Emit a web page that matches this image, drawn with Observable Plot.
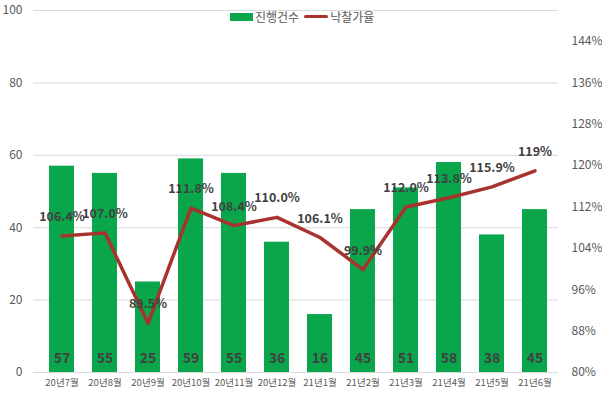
<!DOCTYPE html>
<html><head><meta charset="utf-8">
<script src="https://cdn.jsdelivr.net/npm/d3@7"></script>
<script src="https://cdn.jsdelivr.net/npm/@observablehq/plot@0.6"></script>
<style>
body{margin:0;background:#fff;font-family:"Noto Sans CJK KR","Noto Sans",sans-serif;}
#wrap{position:relative;width:602px;height:397px;}
#legend{position:absolute;left:230px;top:8px;display:flex;align-items:center;font-size:12px;color:#595959;white-space:nowrap;z-index:2;}
.sw{display:inline-block;width:23px;height:8px;background:#0aa64b;margin-right:2px;}
.ln{display:inline-block;width:24px;height:3px;background:#a8332c;margin:0 2px 0 5px;border-radius:2px;}
</style></head>
<body><div id="wrap"><div id="legend"><span class="sw"></span>진행건수<span class="ln"></span>낙찰가율</div></div>
<script>
const months = ["20년7월","20년8월","20년9월","20년10월","20년11월","20년12월","21년1월","21년2월","21년3월","21년4월","21년5월","21년6월"];
const counts = [57,55,25,59,55,36,16,45,51,58,38,45];
const rates = [106.4,107.0,89.5,111.8,108.4,110.0,106.1,99.9,112.0,113.8,115.9,119];
const rateLabels = ["106.4%","107.0%","89.5%","111.8%","108.4%","110.0%","106.1%","99.9%","112.0%","113.8%","115.9%","119%"];
const leftTicks = [0,20,40,60,80,100];
const rightTicks = [80,88,96,104,112,120,128,136,144];
const rMin = 80, rMax = 150;

const toLeft = r => (r - rMin) / (rMax - rMin) * 100;
const data = months.map((m,i)=>({m, c:counts[i], r:rates[i], lab:rateLabels[i]}));

const chart = Plot.plot({
  width: 602, height: 397,
  marginLeft: 38, marginRight: 45, marginTop: 10, marginBottom: 25,
  style: {fontFamily: '"Noto Sans CJK KR","Noto Sans",sans-serif', color: "#595959", background: "transparent"},
  x: {domain: months, paddingInner: 0.42, paddingOuter: 0.21, label: null},
  y: {domain: [0,100], label: null},
  marks: [
    Plot.ruleY(leftTicks, {stroke: "#d9d9d9", strokeWidth: 1, insetLeft: -5, insetRight: -1}),
    Plot.axisY({ticks: leftTicks, tickSize: 0, tickPadding: 16, fontSize: 12, label: null}),
    Plot.axisY({anchor: "right", ticks: rightTicks.map(toLeft), tickFormat: v => Math.round(v/100*(rMax-rMin)+rMin) + "%", tickSize: 0, tickPadding: 14, fontSize: 12, label: null}),
    Plot.axisX({tickSize: 0, tickPadding: 7, fontSize: 9.5, label: null}),
    Plot.barY(data, {x: "m", y: "c", fill: "#0aa64b"}),
    Plot.text(data, {x: "m", y: 0, text: d => String(d.c), dy: -14, fontSize: 14, fontWeight: "bold", fill: "#404040"}),
    Plot.line(data, {x: "m", y: d => toLeft(d.r), stroke: "#a8332c", strokeWidth: 3.5, curve: "linear"}),
    Plot.text(data, {x: "m", y: d => toLeft(d.r), text: "lab", dy: -19, fontSize: 12.5, fontWeight: 600, fill: "#404040"})
  ]
});
document.getElementById("wrap").prepend(chart);
chart.style.position = "absolute"; chart.style.left = "0"; chart.style.top = "0";
</script></body></html>
